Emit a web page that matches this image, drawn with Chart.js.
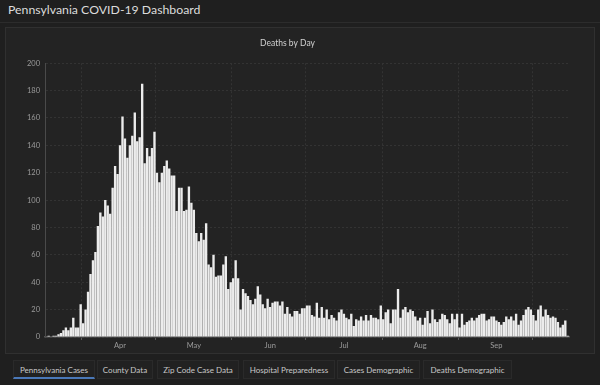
<!DOCTYPE html>
<html>
<head>
<meta charset="utf-8">
<script src="https://cdn.jsdelivr.net/npm/chart.js@4"></script>
<style>
  body { margin: 0; width: 600px; height: 385px; background: #1f1f1f; overflow: hidden; position: relative; font-family: Lato, "Open Sans", sans-serif; }
  #header { position: absolute; left: 0; top: 0; width: 600px; height: 22px; border-bottom: 1px solid #2c2c2c; }
  #header h1 { margin: 0; position: absolute; left: 8px; top: 2px; font-size: 12.3px; font-weight: normal; color: #dcdcdc; }
  #panel { position: absolute; left: 5px; top: 27px; width: 588px; height: 325px; border: 1px solid #303030; background: #232323; }
  #chartBox { position: absolute; left: 6px; top: 28px; width: 587px; height: 324px; }
  #tabs { position: absolute; left: 13px; top: 360px; height: 20px; }
  .tab { position: absolute; top: 0; height: 19px; line-height: 19px; font-size: 8px; color: #c8c8c8; text-align: center; background: #212121; border: 1px solid #2a2a2a; box-sizing: border-box; }
  .tab.active { border-bottom: 2px solid #4a78b8; }
</style>
</head>
<body>
<div id="header"><h1>Pennsylvania COVID-19 Dashboard</h1></div>
<div id="panel"></div>
<div id="chartBox"><canvas id="deathsChart"></canvas></div>
<div id="tabs">
  <div class="tab active" style="left:0; width:82px;">Pennsylvania Cases</div>
  <div class="tab" style="left:84px; width:56px;">County Data</div>
  <div class="tab" style="left:144px; width:82px;">Zip Code Case Data</div>
  <div class="tab" style="left:230px; width:92px;">Hospital Preparedness</div>
  <div class="tab" style="left:324px; width:83px;">Cases Demographic</div>
  <div class="tab" style="left:410px; width:89px;">Deaths Demographic</div>
</div>
<script>
// daily deaths, Mar 17 - Oct 15
const marDeaths = [0, 1, 0, 1, 1, 2, 3, 5, 7, 5, 7, 14, 7, 7, 24];
const aprDeaths = [10, 20, 33, 46, 56, 62, 81, 91, 88, 100, 96, 90, 109, 125, 119, 140, 161, 145, 131, 140, 147, 164, 143, 146, 185, 127, 138, 132, 138, 150];
const mayDeaths = [120, 113, 120, 125, 129, 123, 118, 118, 92, 109, 109, 92, 93, 110, 98, 93, 76, 70, 76, 71, 83, 53, 51, 60, 44, 45, 45, 53, 59, 35, 40];
const junDeaths = [43, 56, 43, 20, 35, 32, 30, 27, 24, 28, 37, 31, 24, 21, 28, 22, 25, 26, 26, 23, 26, 17, 22, 17, 15, 19, 19, 17, 21, 21];
const julDeaths = [23, 23, 16, 15, 25, 14, 22, 14, 20, 13, 16, 14, 12, 18, 20, 17, 14, 13, 17, 8, 13, 12, 15, 12, 16, 12, 16, 14, 14, 13, 23];
const augDeaths = [13, 18, 20, 10, 20, 20, 35, 14, 20, 22, 18, 20, 19, 15, 12, 14, 9, 14, 19, 10, 20, 13, 11, 13, 17, 16, 13, 10, 17, 13, 17];
const sepDeaths = [7, 17, 9, 11, 12, 14, 12, 14, 16, 17, 17, 12, 13, 15, 15, 12, 11, 9, 11, 15, 13, 15, 12, 17, 9, 12, 16, 20, 22, 20];
const octDeaths = [16, 12, 20, 23, 15, 20, 16, 14, 15, 14, 11, 7, 9, 12, 1];

const monthNames = ['Jan', 'Feb', 'Mar', 'Apr', 'May', 'Jun', 'Jul', 'Aug', 'Sep', 'Oct'];
const yTicks = [0, 20, 40, 60, 80, 100, 120, 140, 160, 180, 200];

const deaths = [].concat(marDeaths, aprDeaths, mayDeaths, junDeaths, julDeaths, augDeaths, sepDeaths, octDeaths);
const days = deaths.map((_, i) => new Date(2020, 2, 17 + i));
const labels = days.map(d => monthNames[d.getMonth()] + ' ' + d.getDate());

// month name sits mid-month, grid line on the 1st
const tickLabel = i => days[i].getDate() === 16 ? monthNames[days[i].getMonth()] : '';
const monthStart = i => days[i] && days[i].getDate() === 1;

const ctx = document.getElementById('deathsChart').getContext('2d');
new Chart(ctx, {
  type: 'bar',
  data: {
    labels: labels,
    datasets: [{
      label: 'Deaths',
      data: deaths,
      backgroundColor: '#ececec',
      barPercentage: 0.96,
      categoryPercentage: 1.0
    }]
  },
  options: {
    responsive: true,
    maintainAspectRatio: false,
    animation: false,
    layout: { padding: { left: 0, right: 24, top: 0, bottom: 0 } },
    plugins: {
      legend: { display: false },
      tooltip: { enabled: false },
      title: {
        display: true,
        text: 'Deaths by Day',
        color: '#d0d0d0',
        font: { family: 'Lato', size: 8.5, weight: 'normal' },
        padding: { top: 10.5, bottom: 14.5 }
      }
    },
    scales: {
      x: {
        afterFit: scale => { scale.height = 15; },
        grid: {
          offset: true,
          color: c => monthStart(c.index) ? '#333' : 'transparent',
          tickColor: c => monthStart(c.index) ? '#5a5a5a' : 'transparent',
          tickLength: 3
        },
        border: { color: '#555', width: 1.5, dash: [2, 2] },
        ticks: {
          autoSkip: false,
          maxRotation: 0,
          minRotation: 0,
          padding: 1,
          color: '#9a9a9a',
          font: { family: 'Lato', size: 7.5 },
          callback: (v, i) => tickLabel(i)
        }
      },
      y: {
        min: 0,
        max: 200,
        afterFit: scale => { scale.width = 39; },
        afterBuildTicks: scale => { scale.ticks = yTicks.map(v => ({ value: v })); },
        grid: { color: '#333', drawTicks: false },
        border: { color: '#4a4a4a', width: 1, dash: [2, 2] },
        ticks: {
          padding: 5,
          color: '#9a9a9a',
          font: { family: 'Lato', size: 7.5 }
        }
      }
    }
  }
});
</script>
</body>
</html>
